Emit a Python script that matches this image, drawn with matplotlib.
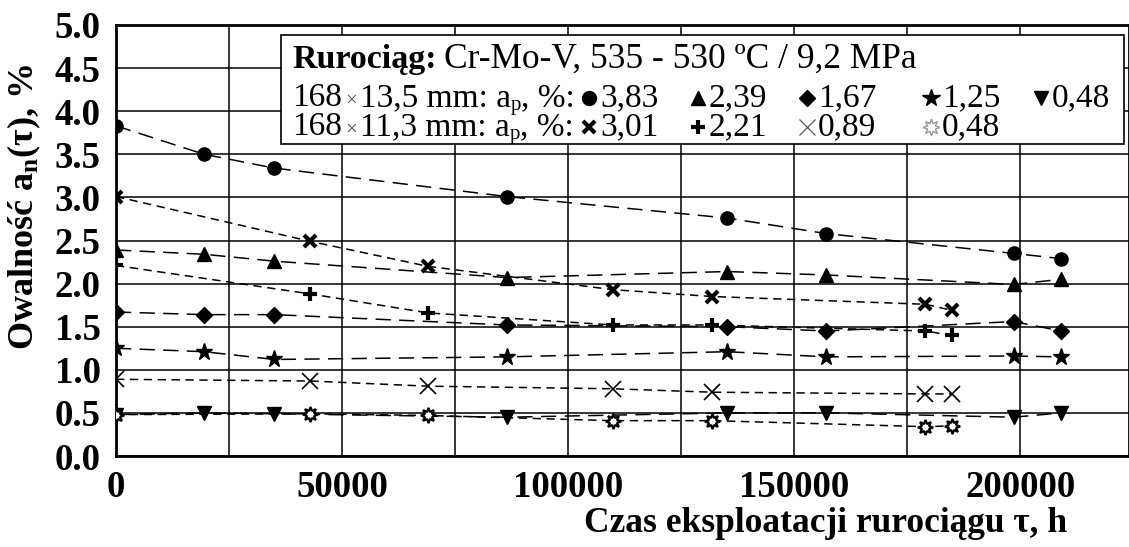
import matplotlib
matplotlib.use("Agg")
import matplotlib.pyplot as plt
from matplotlib.lines import Line2D
from matplotlib.patches import Rectangle
from matplotlib.ticker import MultipleLocator, FixedLocator

plt.rcParams['font.family'] = ['Liberation Serif', 'DejaVu Serif']
plt.rcParams['mathtext.fontset'] = 'custom'
plt.rcParams['mathtext.rm'] = 'Liberation Serif'
plt.rcParams['mathtext.it'] = 'Liberation Serif:italic'
plt.rcParams['mathtext.bf'] = 'Liberation Serif:bold'
plt.rcParams['lines.scale_dashes'] = False

# Operating time, h
time_a = [0, 19500, 35000, 86400, 135200, 157100, 198500, 209000]   # 168x13,5 mm
time_b = [0, 43000, 69000, 109800, 131900, 179000, 184800]          # 168x11,3 mm

# Ovality a_n(tau), %  -- pipe 168x13,5 mm
ovality_383 = [3.83, 3.50, 3.34, 3.01, 2.76, 2.58, 2.35, 2.29]
ovality_239 = [2.39, 2.34, 2.26, 2.07, 2.14, 2.10, 1.99, 2.05]
ovality_167 = [1.67, 1.64, 1.64, 1.52, 1.50, 1.45, 1.56, 1.45]
ovality_125 = [1.25, 1.21, 1.12, 1.15, 1.21, 1.15, 1.16, 1.15]
ovality_048a = [0.48, 0.50, 0.49, 0.45, 0.50, 0.50, 0.45, 0.50]

# Ovality a_n(tau), %  -- pipe 168x11,3 mm
ovality_301 = [3.01, 2.49, 2.20, 1.93, 1.85, 1.76, 1.69]
ovality_221 = [2.21, 1.88, 1.66, 1.52, 1.52, 1.45, 1.40]
ovality_089 = [0.89, 0.87, 0.81, 0.78, 0.74, 0.72, 0.72]
ovality_048b = [0.48, 0.49, 0.47, 0.41, 0.41, 0.34, 0.35]

x_ticks = [0, 50000, 100000, 150000, 200000]
y_ticks = [0.0, 0.5, 1.0, 1.5, 2.0, 2.5, 3.0, 3.5, 4.0, 4.5, 5.0]

W, H = 1129, 547
fig = plt.figure(figsize=(W / 100, H / 100), dpi=100)
ax = fig.add_axes([116 / W, 1 - 456 / H, (W - 116) / W, (456 - 25) / H])

LONG = (0, (11, 6))
SHORT = (0, (6, 4))
lw = 1.1
asterisk = (8, 1, 0)

ax.plot(time_a, ovality_383, color='black', lw=lw, linestyle=LONG, marker='o', ms=9.5, zorder=3)
ax.plot(time_a, ovality_239, color='black', lw=lw, linestyle=LONG, marker='^', ms=10, zorder=3)
ax.plot(time_a, ovality_167, color='black', lw=lw, linestyle=LONG, marker='D', ms=8, zorder=3)
ax.plot(time_a, ovality_125, color='black', lw=lw, linestyle=LONG, marker='*', ms=12.5, zorder=3)
ax.plot(time_a, ovality_048a, color='black', lw=lw, linestyle=LONG, marker='v', ms=10, zorder=3)

ax.plot(time_b, ovality_301, color='black', lw=lw, linestyle=SHORT, marker='x', ms=9, mew=3, zorder=3)
ax.plot(time_b, ovality_221, color='black', lw=lw, linestyle=SHORT, marker='+', ms=10, mew=3, zorder=3)
ax.plot(time_b, ovality_089, color='black', lw=lw, linestyle=SHORT, marker='x', ms=11, mew=1.2, zorder=3)
ax.plot(time_b, ovality_048b, color='black', lw=lw, linestyle=SHORT, marker=asterisk, ms=11,
        mfc='white', mec='black', mew=1.6, zorder=3)

ax.set_xlim(0, 224000)
ax.set_ylim(0, 5.0)
ax.xaxis.set_major_locator(FixedLocator(x_ticks))
ax.xaxis.set_minor_locator(MultipleLocator(25000))
ax.yaxis.set_major_locator(FixedLocator(y_ticks))
ax.set_xticklabels([str(v) for v in x_ticks])
ax.set_yticklabels([f"{v:.1f}" for v in y_ticks])
ax.tick_params(which='both', length=0, labelsize=26.5)
ax.tick_params(axis='x', pad=10)
ax.tick_params(axis='y', pad=11)
for lab in ax.get_xticklabels() + ax.get_yticklabels():
    lab.set_fontweight('bold')
ax.grid(True, which='both', color='black', lw=1.1)
ax.set_axisbelow(True)
for side, sp in ax.spines.items():
    sp.set_linewidth(2.0)
    sp.set_color('black')

ax.set_xlabel('Czas eksploatacji rurociągu τ, h', fontsize=25.5, fontweight='bold')
ax.xaxis.set_label_coords(0.70, -0.118)
ax.set_ylabel(r'Owalność a$_\mathbf{n}$(τ), %', fontsize=26, fontweight='bold')
ax.yaxis.set_label_coords(-0.072, 0.578)

# Description box in the upper part of the plot
renderer = fig.canvas.get_renderer()
box_l, box_t, box_r, box_b = 281, 35, 1124, 144
fig.add_artist(Rectangle((box_l / W, 1 - box_b / H), (box_r - box_l) / W, (box_b - box_t) / H,
                         transform=fig.transFigure, facecolor='white', edgecolor='black',
                         lw=1.2, zorder=5))


def put(x, base, s, size=24, weight='normal', color='black'):
    t = fig.text(x / W, 1 - base / H, s, fontsize=size, fontweight=weight, color=color,
                 ha='left', va='baseline', zorder=6)
    return x + t.get_window_extent(renderer).width


def sym(x, base, **kw):
    kw.setdefault('color', 'black')
    fig.add_artist(Line2D([x / W], [1 - (base - 8) / H], transform=fig.transFigure,
                          linestyle='none', zorder=6, **kw))


tx = 292
# Title line: bold pipeline name followed by the steel grade and service conditions
x = put(tx, 68, 'Rurociąg:', size=24.5, weight='bold')
put(x + 7, 68, 'Cr-Mo-V, 535 - 530 ºC / 9,2 MPa', size=25.5)


def row_head(base, dims):
    x = put(tx, base, '168')
    x = put(x + 3, base, '×', size=15, color='#555555')
    x = put(x + 3, base, dims + ' mm: a')
    x = put(x, base + 4, 'p', size=15)
    return put(x, base, ', %:')


cols = [589, 698, 807, 931, 1041]
row_head(106, '13,5')
row_a = [(dict(marker='o', ms=10), '3,83'), (dict(marker='^', ms=10), '2,39'),
         (dict(marker='D', ms=8.5), '1,67'), (dict(marker='*', ms=13), '1,25'),
         (dict(marker='v', ms=10), '0,48')]
for cx, (mk, lab) in zip(cols, row_a):
    sym(cx, 106, **mk)
    put(cx + 11, 106, lab)

row_head(135, '11,3')
row_b = [(dict(marker='x', ms=9, mew=3), '3,01'), (dict(marker='+', ms=10, mew=3), '2,21'),
         (dict(marker='x', ms=11, mew=0.9, color='#555555'), '0,89'),
         (dict(marker=asterisk, ms=12, mfc='white', mec='#999999', mew=1.0), '0,48')]
for cx, (mk, lab) in zip(cols, row_b):
    sym(cx, 135, **mk)
    put(cx + 11, 135, lab)

fig.savefig('out.png', dpi=100)
